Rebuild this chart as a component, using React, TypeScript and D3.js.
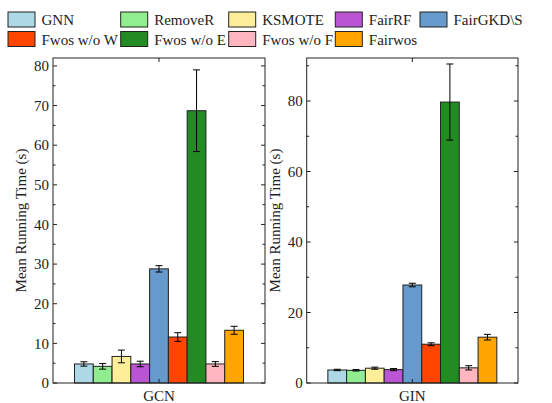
import * as d3 from 'd3';

const models = ['GNN', 'RemoveR', 'KSMOTE', 'FairRF', 'FairGKD\\S', 'Fwos w/o W', 'Fwos w/o E', 'Fwos w/o F', 'Fairwos'];
const colors = ['#add8e6', '#90ee90', '#ffee99', '#ba55d3', '#6699cc', '#ff4500', '#228b22', '#ffb6c1', '#ffa500'];

const gcnMeans = [4.8, 4.2, 6.7, 4.8, 28.8, 11.6, 68.7, 4.8, 13.3];
const gcnErrs = [0.55, 0.7, 1.6, 0.7, 0.8, 1.1, 10.3, 0.6, 1.0];
const ginMeans = [3.7, 3.6, 4.2, 3.8, 27.8, 11.0, 79.7, 4.3, 13.0];
const ginErrs = [0.2, 0.2, 0.3, 0.3, 0.5, 0.4, 10.8, 0.6, 0.8];

const gcnTicks = [0, 10, 20, 30, 40, 50, 60, 70, 80];
const ginTicks = [0, 20, 40, 60, 80];

const txt = { fontFamily: "'Liberation Serif', 'Times New Roman', serif", fontSize: 15, fill: '#222' };

type PanelProps = {
  label: string;
  means: number[];
  errs: number[];
  ticks: number[];
  yMax: number;
  x0: number;
  x1: number;
};

function Panel({ label, means, errs, ticks, yMax, x0, x1 }: PanelProps) {
  const top = 58;
  const bottom = 383;
  const y = d3.scaleLinear().domain([0, yMax]).range([bottom, top]);
  const cx = (x0 + x1) / 2;
  const x = d3.scaleBand().domain(models).range([cx - 84.5, cx + 84.5]).padding(0);
  const step = ticks[1] - ticks[0];
  const minors = d3.range(step / 2, yMax, step).filter((v) => !ticks.includes(v));

  return (
    <g>
      {models.map((m, i) => {
        const bx = x(m)!;
        const bw = x.bandwidth();
        const ex = bx + bw / 2;
        const lo = y(means[i] - errs[i]);
        const hi = y(means[i] + errs[i]);
        return (
          <g key={m}>
            <rect x={bx} y={y(means[i])} width={bw} height={bottom - y(means[i])} fill={colors[i]} stroke="#222" strokeWidth={1} />
            <line x1={ex} x2={ex} y1={lo} y2={hi} stroke="#000" strokeWidth={1} />
            <line x1={ex - 3.5} x2={ex + 3.5} y1={lo} y2={lo} stroke="#000" strokeWidth={1} />
            <line x1={ex - 3.5} x2={ex + 3.5} y1={hi} y2={hi} stroke="#000" strokeWidth={1} />
          </g>
        );
      })}
      <rect x={x0} y={top} width={x1 - x0} height={bottom - top} fill="none" stroke="#222" strokeWidth={1} />
      {ticks.map((t) => (
        <g key={'t' + t}>
          <line x1={x0} x2={x0 + 4} y1={y(t)} y2={y(t)} stroke="#222" />
          <line x1={x1} x2={x1 - 4} y1={y(t)} y2={y(t)} stroke="#222" />
          <text x={x0 - 4} y={y(t)} dy="0.35em" textAnchor="end" style={txt}>
            {t}
          </text>
        </g>
      ))}
      {minors.map((t) => (
        <g key={'m' + t}>
          <line x1={x0} x2={x0 + 2.5} y1={y(t)} y2={y(t)} stroke="#222" />
          <line x1={x1} x2={x1 - 2.5} y1={y(t)} y2={y(t)} stroke="#222" />
        </g>
      ))}
      <line x1={cx} x2={cx} y1={bottom} y2={bottom - 4} stroke="#222" />
      <line x1={cx} x2={cx} y1={top} y2={top + 4} stroke="#222" />
      <text x={cx} y={401} textAnchor="middle" style={txt}>
        {label}
      </text>
      <text transform={`translate(${x0 - 27},${(top + bottom) / 2}) rotate(-90)`} textAnchor="middle" style={txt}>
        Mean Running Time (s)
      </text>
    </g>
  );
}

const legendCols = [8, 120.7, 228.7, 335.3, 420];

export default function App() {
  return (
    <svg width={552} height={403} style={{ position: 'absolute', left: 0, top: 0, background: '#fff' }}>
      <g>
        {models.map((m, i) => {
          const col = i % 5;
          const row = Math.floor(i / 5);
          const lx = legendCols[col];
          const ly = 12 + row * 19.5;
          return (
            <g key={m}>
              <rect x={lx} y={ly} width={27} height={15} fill={colors[i]} stroke="#222" strokeWidth={1} />
              <text x={lx + 33.5} y={ly + 13} style={txt}>
                {m}
              </text>
            </g>
          );
        })}
      </g>
      <Panel label="GCN" means={gcnMeans} errs={gcnErrs} ticks={gcnTicks} yMax={82} x0={53} x1={265} />
      <Panel label="GIN" means={ginMeans} errs={ginErrs} ticks={ginTicks} yMax={92.2} x0={306.7} x1={518} />
    </svg>
  );
}
